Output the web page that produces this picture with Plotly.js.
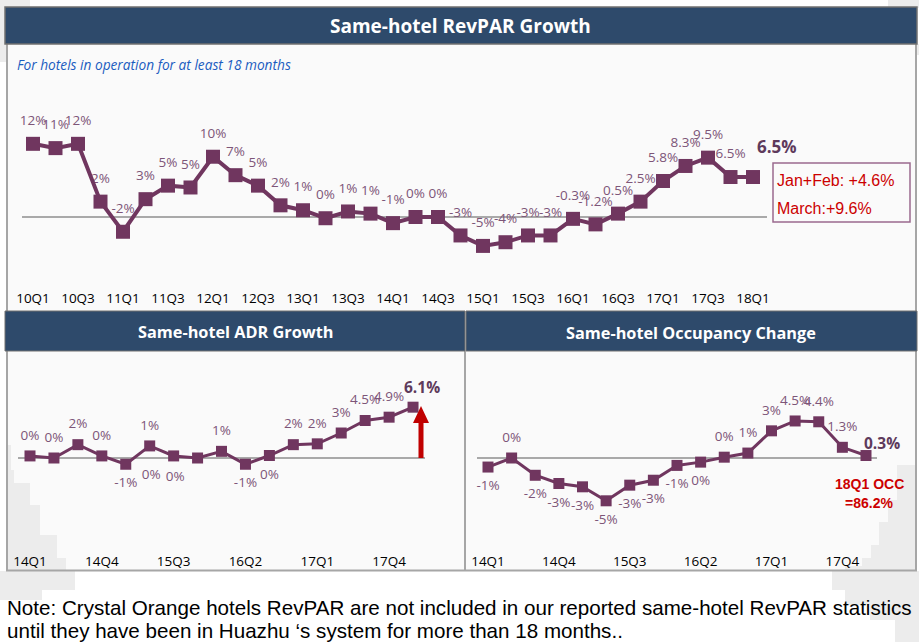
<!DOCTYPE html>
<html><head><meta charset="utf-8">
<script src="https://cdn.plot.ly/plotly-3.0.1.min.js"></script>
<style>html,body{margin:0;padding:0;background:#fff;}#chart{width:919px;height:642px;}</style>
</head><body><div id="chart"></div>
<script>
// ---------- DATA ----------
const revparQuarters = ['10Q1','10Q2','10Q3','10Q4','11Q1','11Q2','11Q3','11Q4','12Q1','12Q2','12Q3','12Q4',
  '13Q1','13Q2','13Q3','13Q4','14Q1','14Q2','14Q3','14Q4','15Q1','15Q2','15Q3','15Q4',
  '16Q1','16Q2','16Q3','16Q4','17Q1','17Q2','17Q3','17Q4','18Q1'];
const revparValues = [11.9,11.2,11.9,2.5,-2.4,2.9,5.1,4.8,9.8,6.8,5.1,1.9,
  1.1,-0.2,0.9,0.55,-1.0,0,0,-3.0,-4.7,-4.1,-3.0,-3.0,
  -0.3,-1.2,0.55,2.5,5.85,8.3,9.65,6.5,6.5];
const revparLabels = ['12%','11%','12%','2%','-2%','3%','5%','5%','10%','7%','5%','2%',
  '1%','0%','1%','1%','-1%','0%','0%','-3%','-5%','-4%','-3%','-3%',
  '-0.3%','-1.2%','0.5%','2.5%','5.8%','8.3%','9.5%','6.5%','6.5%'];
const revparTicks = ['10Q1','10Q3','11Q1','11Q3','12Q1','12Q3','13Q1','13Q3','14Q1','14Q3','15Q1','15Q3','16Q1','16Q3','17Q1','17Q3','18Q1'];

const recentQuarters = ['14Q1','14Q2','14Q3','14Q4','15Q1','15Q2','15Q3','15Q4',
  '16Q1','16Q2','16Q3','16Q4','17Q1','17Q2','17Q3','17Q4','18Q1'];
const recentTicks = ['14Q1','14Q4','15Q3','16Q2','17Q1','17Q4'];

const adrValues = [0.25,0,1.6,0.25,-0.75,1.45,0.25,0,0.8,-0.75,0.3,1.6,1.7,3.0,4.5,4.9,6.1];
const adrLabels = ['0%','0%','2%','0%','-1%','1%','0%','0%','1%','-1%','0%','2%','2%','3%','4.5%','4.9%','6.1%'];

const occValues = [-1.1,0,-2.1,-3.1,-3.5,-5.2,-3.3,-2.7,-0.9,-0.5,0.1,0.6,3.3,4.5,4.4,1.3,0.3];
const occLabels = ['-1%','0%','-2%','-3%','-3%','-5%','-3%','-3%','-1%','0%','0%','1%','3%','4.5%','4.4%','1.3%','0.3%'];

// ---------- STYLE / LAYOUT ----------
const W = 919, H = 642;
const px = x => x / W;
const py = y => 1 - y / H;
const xRange = (L, R, c0, s) => [(L - c0) / s, (R - c0) / s];
const yRange = (T, B, z, k) => [(z - B) / k, (z - T) / k];

const FONT = 'Open Sans, Lato, sans-serif';
const PURPLE = '#70365f';
const LABEL = '#7d5578';
const BOLDLBL = '#5e3a5c';
const HEADER = '#2e4a6b';
const GREY = '#ececec';

const revparPos = revparLabels.map(() => 'top center');
const adrPos = ['top center','top center','top center','top center','bottom center','top center','bottom left','bottom left',
  'top center','bottom center','bottom center','top center','top center','top center','top center','top center','top center'];
const occPos = ['bottom center','top center','bottom center','bottom center','bottom center','bottom center','bottom center','bottom center',
  'bottom center','bottom center','top center','top center','top center','top center','top center','top center','top center'];

// label trace (drawn first, so the line sits over it as in the original); last label is bold, drawn separately
function labelTrace(x, y, labels, pos, xa, ya, gap, fsize) {
  const n = labels.length - 1;
  return {
    x: x, y: y, xaxis: xa, yaxis: ya, type: 'scatter', mode: 'markers+text',
    text: labels.map((t, i) => i === n ? '' : t), textposition: pos,
    textfont: {family: FONT, size: fsize, color: LABEL},
    marker: {symbol: 'square', size: gap, color: 'rgba(0,0,0,0)'},
    cliponaxis: false, hoverinfo: 'skip', showlegend: false
  };
}
function lineTrace(x, y, xa, ya, msize, lw) {
  return {
    x: x, y: y, xaxis: xa, yaxis: ya, type: 'scatter', mode: 'lines+markers',
    line: {color: PURPLE, width: lw},
    marker: {symbol: 'square', size: msize, color: PURPLE},
    cliponaxis: false, hoverinfo: 'skip', showlegend: false
  };
}

const data = [
  labelTrace(revparQuarters, revparValues, revparLabels, revparPos, 'x', 'y', 23, 13.5),
  lineTrace(revparQuarters, revparValues, 'x', 'y', 14, 4),
  labelTrace(recentQuarters, adrValues, adrLabels, adrPos, 'x2', 'y2', 19, 13.5),
  lineTrace(recentQuarters, adrValues, 'x2', 'y2', 11, 3),
  labelTrace(recentQuarters, occValues, occLabels, occPos, 'x3', 'y3', 19, 13.5),
  lineTrace(recentQuarters, occValues, 'x3', 'y3', 11, 3)
];

function xAxis(domL, domR, c0, s, ticks, anchor) {
  return {
    type: 'category', domain: [px(domL), px(domR)], range: xRange(domL, domR, c0, s),
    tickvals: ticks, ticks: '', showgrid: false, showline: false, zeroline: false,
    tickfont: {family: FONT, size: 13.5, color: '#000'}, anchor: anchor, fixedrange: true
  };
}
function yAxis(T, B, z, k, anchor) {
  return {
    domain: [py(B), py(T)], range: yRange(T, B, z, k),
    showgrid: false, showticklabels: false, ticks: '', showline: false,
    zeroline: true, zerolinecolor: '#a9a9a9', zerolinewidth: 2, anchor: anchor, fixedrange: true
  };
}

function rect(x0, y0, x1, y1, fill, line, lw) {
  return {type: 'rect', xref: 'paper', yref: 'paper', x0: px(x0), x1: px(x1), y0: py(y1), y1: py(y0),
    fillcolor: fill, line: {color: line || 'rgba(0,0,0,0)', width: lw || 0}, layer: 'below'};
}
function vline(x, y0, y1, color, w) {
  return {type: 'line', xref: 'paper', yref: 'paper', x0: px(x), x1: px(x), y0: py(y0), y1: py(y1),
    line: {color: color, width: w}, layer: 'below'};
}
function hline(x0, x1, y, color, w) {
  return {type: 'line', xref: 'paper', yref: 'paper', x0: px(x0), x1: px(x1), y0: py(y), y1: py(y),
    line: {color: color, width: w}, layer: 'below'};
}

const shapes = [
  // background decorations
  rect(0, 0, 30, 62, GREY), rect(888, 0, 919, 8, GREY), rect(905, 44, 919, 55, GREY),
  rect(0, 571, 75, 590, GREY), rect(0, 590, 42, 600, GREY),
  rect(832, 571, 919, 590, GREY), rect(845, 590, 919, 605, GREY), rect(870, 605, 919, 620, GREY), rect(895, 620, 919, 642, GREY),
  // top panel
  rect(6, 44, 916, 311, '#fafafa'),
  vline(7, 44, 311, '#a6a6a6', 2), vline(916, 44, 311, '#a6a6a6', 2),
  rect(5, 7, 917, 44, HEADER, '#707070', 1.5),
  // bottom-left panel
  rect(6, 351, 465, 571, '#fafafa'),
  rect(6, 445, 11, 571, GREY), rect(6, 470, 14, 571, GREY), rect(6, 483, 30, 571, GREY),
  rect(6, 505, 40, 571, GREY), rect(6, 535, 57, 571, GREY), rect(6, 558, 66, 571, GREY),
  vline(7, 351, 571, '#a6a6a6', 2), vline(465, 351, 571, '#a6a6a6', 2), hline(6, 466, 570.5, '#a6a6a6', 2),
  rect(5, 311, 465, 351, HEADER, '#707070', 1),
  // bottom-right panel
  rect(466, 351, 916, 571, '#fafafa'),
  rect(897, 465, 916, 571, GREY), rect(888, 500, 916, 571, GREY), rect(879, 522, 916, 571, GREY),
  rect(871, 545, 916, 571, GREY), rect(862, 558, 916, 571, GREY), rect(845, 566, 916, 571, GREY),
  vline(916, 351, 571, '#a6a6a6', 2), hline(466, 917, 570.5, '#a6a6a6', 2),
  rect(466, 311, 917, 351, HEADER, '#707070', 1),
  // RevPAR note box
  {type: 'rect', xref: 'paper', yref: 'paper', x0: px(773), x1: px(910), y0: py(222), y1: py(163),
    fillcolor: 'rgba(0,0,0,0)', line: {color: '#9a6a8e', width: 1.5}},
  // red arrow on ADR chart
  {type: 'path', xref: 'paper', yref: 'paper', fillcolor: '#c00000', line: {color: '#c00000', width: 0},
    path: 'M ' + px(418.5) + ' ' + py(458) + ' L ' + px(423.5) + ' ' + py(458) + ' L ' + px(423.5) + ' ' + py(423) +
      ' L ' + px(429) + ' ' + py(423) + ' L ' + px(421) + ' ' + py(406) + ' L ' + px(413) + ' ' + py(423) +
      ' L ' + px(418.5) + ' ' + py(423) + ' Z'}
];

function note(text, x, y, opts) {
  return Object.assign({xref: 'paper', yref: 'paper', x: px(x), y: py(y), text: text, showarrow: false,
    xanchor: 'center', yanchor: 'middle'}, opts);
}
// bold latest-quarter label, tied to the last data point
function lastLabel(cats, vals, labels, xa, ya, dx, dy, size) {
  const n = cats.length - 1;
  return {xref: xa, yref: ya, x: cats[n], y: vals[n], text: '<b>' + labels[n] + '</b>', showarrow: false,
    xshift: dx, yshift: dy, xanchor: 'center', yanchor: 'middle',
    font: {family: FONT, size: size, color: BOLDLBL}};
}

const RED = {family: 'Liberation Sans, Arial', size: 16, color: '#cc0000'};
const annotations = [
  note('<b>Same-hotel RevPAR Growth</b>', 461, 26, {font: {family: FONT, size: 19, color: '#fff'}}),
  note('<b>Same-hotel ADR Growth</b>', 236, 332, {font: {family: FONT, size: 16.3, color: '#fff'}}),
  note('<b>Same-hotel Occupancy Change</b>', 691, 333, {font: {family: FONT, size: 16.3, color: '#fff'}}),
  note('<i>For hotels in operation for at least 18 months</i>', 15, 64,
    {xanchor: 'left', font: {family: FONT, size: 13.7, color: '#1a5cc0'}}),
  note('Jan+Feb: +4.6%', 775, 180, {xanchor: 'left', font: RED}),
  note('March:+9.6%', 775, 208, {xanchor: 'left', font: RED}),
  note('<b>18Q1 OCC</b>', 869, 484, {font: {family: 'Liberation Sans, Arial', size: 14, color: '#cc0000'}}),
  note('<b>=86.2%</b>', 869, 503, {font: {family: 'Liberation Sans, Arial', size: 14, color: '#cc0000'}}),
  note('Note: Crystal Orange hotels RevPAR are not included in our reported same-hotel RevPAR statistics', 5, 607,
    {xanchor: 'left', font: {family: 'Liberation Sans, Arial', size: 20.6, color: '#000'}}),
  note('until they have been in Huazhu \u2018s system for more than 18 months..', 5, 630,
    {xanchor: 'left', font: {family: 'Liberation Sans, Arial', size: 20.6, color: '#000'}}),
  lastLabel(revparQuarters, revparValues, revparLabels, 'x', 'y', 24, 31, 17),
  lastLabel(recentQuarters, adrValues, adrLabels, 'x2', 'y2', 9, 20, 15.5),
  lastLabel(recentQuarters, occValues, occLabels, 'x3', 'y3', 16, 13, 15.5)
];

const layout = {
  width: W, height: H, margin: {l: 0, r: 0, t: 0, b: 0},
  paper_bgcolor: '#ffffff', plot_bgcolor: 'rgba(0,0,0,0)', showlegend: false,
  xaxis: xAxis(22, 767, 33, 22.5, revparTicks, 'y'),
  yaxis: yAxis(75, 288, 217, 6.15, 'x'),
  xaxis2: xAxis(18, 425, 30, 23.94, recentTicks, 'y2'),
  yaxis2: yAxis(365, 551, 458, 8.33, 'x2'),
  xaxis3: xAxis(477, 877, 488, 23.625, recentTicks, 'y3'),
  yaxis3: yAxis(365, 551, 458, 8.23, 'x3'),
  shapes: shapes, annotations: annotations, hovermode: false
};

Plotly.newPlot('chart', data, layout, {staticPlot: true, displayModeBar: false});
</script></body></html>
